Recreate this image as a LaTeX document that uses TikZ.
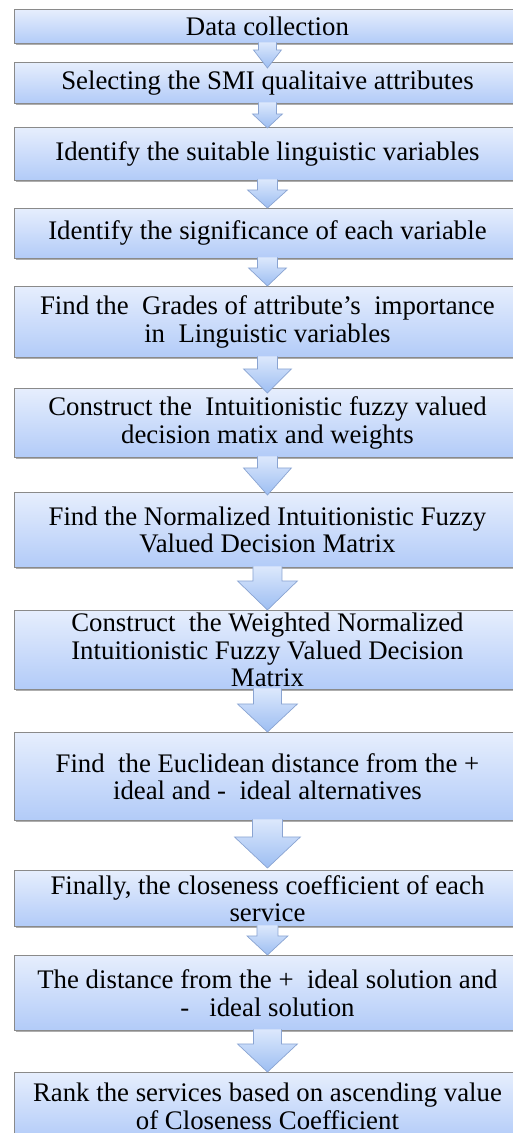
\documentclass[tikz,border=0pt]{standalone}
\usepackage{fontspec}
\setmainfont{Liberation Serif}
\usetikzlibrary{calc,shadows}
\definecolor{boxtop}{HTML}{E6EEFD}
\definecolor{boxbot}{HTML}{B2CBF8}
\definecolor{boxline}{HTML}{8A8A8A}
\definecolor{arrtop}{HTML}{DCE8FC}
\definecolor{arrbot}{HTML}{9DBEF2}
\definecolor{arrline}{HTML}{8AA4D2}
\tikzset{
  stepbox/.style={draw=boxline, line width=0.9pt, top color=boxtop, bottom color=boxbot,
    minimum width=506pt, inner sep=0pt, align=center, anchor=north west,
    font=\fontsize{26.8}{27.5}\selectfont,
    drop shadow={shadow xshift=1.2pt, shadow yshift=-2pt, opacity=0.45, fill=black!70}},
  arrowfill/.style={top color=arrtop, bottom color=arrbot, draw=none},
  arrowedge/.style={draw=arrline, line width=0.7pt, line join=miter}
}
% #1 from, #2 to, #3 shaft half width, #4 head half width, #5 head start below from.south, #6 tip below to.north
\newcommand\blockarr[6]{%
  \path[arrowfill] ($(#1.south)+(-#3,-1.5)$) -- ($(#1.south)+(-#3,#5)$) -- ($(#1.south)+(-#4,#5)$)
    -- ($(#2.north)+(0,#6)$) -- ($(#1.south)+(#4,#5)$) -- ($(#1.south)+(#3,#5)$) -- ($(#1.south)+(#3,-1.5)$) -- cycle;
  \draw[arrowedge] ($(#1.south)+(-#3,-1.5)$) -- ($(#1.south)+(-#3,#5)$) -- ($(#1.south)+(-#4,#5)$)
    -- ($(#2.north)+(0,#6)$) -- ($(#1.south)+(#4,#5)$) -- ($(#1.south)+(#3,#5)$) -- ($(#1.south)+(#3,-1.5)$);
}
\begin{document}
\begin{tikzpicture}[x=1pt,y=-1pt]
\useasboundingbox (0,0) rectangle (513,1133);
\clip (0,0) rectangle (513,1133);
\node[stepbox, minimum height=34pt] (b1) at (14,9) {Data collection};
\node[stepbox, minimum height=41pt] (b2) at (14,62) {Selecting the SMI qualitaive attributes};
\node[stepbox, minimum height=53pt] (b3) at (14,127) {Identify the suitable linguistic variables};
\node[stepbox, minimum height=50pt] (b4) at (14,208) {Identify the significance of each variable};
\node[stepbox, minimum height=71pt] (b5) at (14,286) {Find the \ Grades of attribute’s \ importance\\in \ Linguistic variables};
\node[stepbox, minimum height=69pt] (b6) at (14,388) {Construct the \ Intuitionistic fuzzy valued\\decision matix and weights};
\node[stepbox, minimum height=75pt] (b7) at (14,492) {Find the Normalized Intuitionistic Fuzzy\\Valued Decision Matrix};
\node[stepbox, minimum height=79pt] (b8) at (14,610) {Construct \ the Weighted Normalized\\Intuitionistic Fuzzy Valued Decision\\Matrix};
\node[stepbox, minimum height=88pt] (b9) at (14,732) {Find \ the Euclidean distance from the +\\ideal and - \ ideal alternatives};
\node[stepbox, minimum height=56pt] (b10) at (14,870) {Finally, the closeness coefficient of each\\service};
\node[stepbox, minimum height=75pt] (b11) at (14,955) {The distance from the + \ ideal solution and\\- \ \ ideal solution};
\node[stepbox, minimum height=68pt] (b12) at (14,1072) {Rank the services based on ascending value\\of Closeness Coefficient};
\blockarr{b1}{b2}{9}{14}{6}{6}
\blockarr{b2}{b3}{9}{15}{10}{1}
\blockarr{b3}{b4}{10}{20}{9}{0}
\blockarr{b4}{b5}{10}{19}{9}{0}
\blockarr{b5}{b6}{10}{24}{11}{5}
\blockarr{b6}{b7}{10}{24}{10}{3}
\blockarr{b7}{b8}{14.5}{30}{13}{0}
\blockarr{b8}{b9}{14}{30}{14}{0}
\blockarr{b9}{b10}{15}{33}{16}{-2}
\blockarr{b10}{b11}{10.5}{20.5}{9}{0}
\blockarr{b11}{b12}{14}{30}{13}{0}
\end{tikzpicture}
\end{document}
